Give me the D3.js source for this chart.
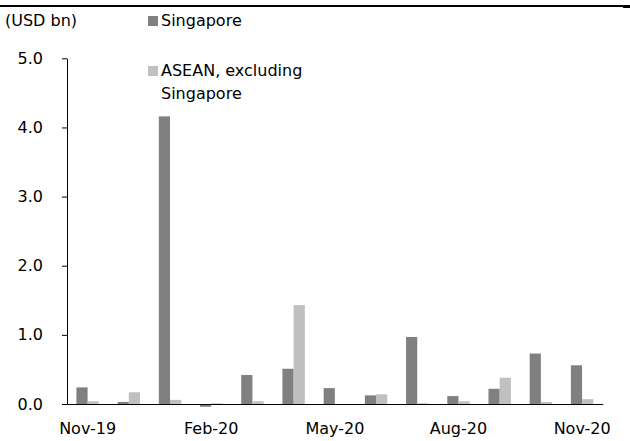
<!DOCTYPE html>
<html>
<head>
<meta charset="utf-8">
<script src="https://cdn.jsdelivr.net/npm/d3@7"></script>
<style>
  body { margin: 0; background: #fff; }
  svg { display: block; font-family: "DejaVu Sans", Verdana, sans-serif; }
</style>
</head>
<body>
<svg id="chart" width="630" height="441"></svg>
<script>
// Monate (Kategorien)
const months = ['Nov-19', 'Dec-19', 'Jan-20', 'Feb-20', 'Mar-20', 'Apr-20', 'May-20',
                'Jun-20', 'Jul-20', 'Aug-20', 'Sep-20', 'Oct-20', 'Nov-20'];
// Werte in USD bn
const singapore = [0.24, 0.03, 4.16, -0.04, 0.42, 0.51, 0.23, 0.125, 0.97, 0.115, 0.22, 0.73, 0.56];
const aseanExSg = [0.04, 0.17, 0.06, 0.01, 0.04, 1.43, 0.0, 0.14, 0.01, 0.04, 0.38, 0.03, 0.07];
const seriesNames = ['Singapore', 'ASEAN, excluding Singapore'];
const yTicks = [0, 1, 2, 3, 4, 5];
const xLabelMonths = ['Nov-19', 'Feb-20', 'May-20', 'Aug-20', 'Nov-20'];

const colors = { 'Singapore': '#808080', 'ASEAN, excluding Singapore': '#c0c0c0' };

const svg = d3.select('#chart');

// Linie oben
svg.append('rect').attr('x', 0).attr('y', 5).attr('width', 630).attr('height', 2).attr('fill', '#000');
svg.append('rect').attr('x', 623).attr('y', 5).attr('width', 7).attr('height', 3).attr('fill', '#000');

// Skalen
const x0 = d3.scaleBand().domain(months).range([67, 602.7]);
const bw = x0.bandwidth();
const x1 = d3.scaleBand().domain(seriesNames).range([0.228 * bw, 0.772 * bw]);
const y = d3.scaleLinear().domain([0, 5]).range([404, 58.3]);

// Daten zusammenbauen
const rows = months.map((m, i) => ({ month: m, values: [
    { name: seriesNames[0], value: singapore[i] },
    { name: seriesNames[1], value: aseanExSg[i] }
]}));

// Balken
const groups = svg.append('g').selectAll('g')
    .data(rows)
    .enter()
    .append('g')
    .attr('transform', d => `translate(${x0(d.month)},0)`);

groups.selectAll('rect')
    .data(d => d.values)
    .enter()
    .append('rect')
    .attr('x', d => x1(d.name))
    .attr('width', x1.bandwidth())
    .attr('y', d => y(Math.max(0, d.value)))
    .attr('height', d => Math.abs(y(d.value) - y(0)))
    .attr('fill', d => colors[d.name]);

// Y-Achse
const yAxis = d3.axisLeft(y)
    .tickValues(yTicks)
    .tickFormat(d3.format('.1f'))
    .tickSize(5)
    .tickSizeOuter(0);
const gy = svg.append('g').attr('transform', 'translate(67,0)').call(yAxis);
gy.select('.domain').attr('stroke', '#000').attr('stroke-width', 1);
gy.selectAll('.tick line').attr('stroke', '#000');
gy.selectAll('.tick text')
    .attr('x', -24)
    .attr('font-size', 16)
    .attr('font-family', '"DejaVu Sans", Verdana, sans-serif')
    .attr('fill', '#000');

// X-Achse (Grundlinie)
const xAxis = d3.axisBottom(x0)
    .tickValues(xLabelMonths)
    .tickSize(0)
    .tickSizeOuter(0);
const gx = svg.append('g').attr('transform', `translate(0,${y(0)})`).call(xAxis);
gx.select('.domain').attr('stroke', '#000').attr('stroke-width', 1.2);
gx.selectAll('.tick text')
    .attr('y', 19)
    .attr('font-size', 16)
    .attr('font-family', '"DejaVu Sans", Verdana, sans-serif')
    .attr('fill', '#000');

// Einheit
svg.append('text')
    .attr('x', 5).attr('y', 26)
    .attr('font-size', 16)
    .text('(USD bn)');

// Legende
const legend = [
    { name: seriesNames[0], lines: ['Singapore'], y: 26 },
    { name: seriesNames[1], lines: ['ASEAN, excluding', 'Singapore'], y: 76 }
];
legend.forEach(item => {
    svg.append('rect')
        .attr('x', 148).attr('y', item.y - 10)
        .attr('width', 10).attr('height', 10)
        .attr('fill', colors[item.name]);
    const t = svg.append('text')
        .attr('x', 161).attr('y', item.y)
        .attr('font-size', 16);
    item.lines.forEach((line, i) => {
        t.append('tspan').attr('x', 161).attr('dy', i === 0 ? 0 : 23).text(line);
    });
});
</script>
</body>
</html>
